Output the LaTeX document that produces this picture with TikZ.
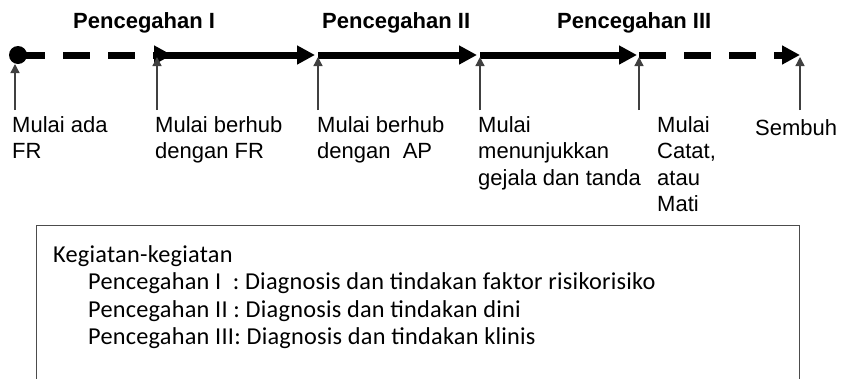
\documentclass[tikz,border=0pt]{standalone}
\usepackage{fontspec}
\setmainfont{Liberation Sans}
\newfontfamily\boxfont[LetterSpace=1]{Carlito}
\usetikzlibrary{arrows.meta}

\begin{document}
\begin{tikzpicture}[x=1pt, y=-1pt, >=Latex, line join=miter,
	tl/.style={line width=7pt, -{Triangle[length=18pt,width=18pt]}},
	tldash/.style={tl, dash pattern=on 27pt off 18pt},
	uparrow/.style={line width=1.3pt, black!75, -{Triangle[length=9pt,width=9pt]}, shorten >=2pt},
	lbl/.style={anchor=north west, inner sep=0pt, align=left, font=\fontsize{22}{26.5}\selectfont},
	ttl/.style={anchor=base west, inner sep=0pt, font=\fontsize{22}{26}\selectfont\bfseries},
	dot/.style={circle, fill, inner sep=0pt, minimum size=18pt}]

\useasboundingbox (0,0) rectangle (843,378);
\clip (0,0) rectangle (843,378);

%========================
% Titles
%========================
\node[ttl] (ttlI)   at (73,28)  {Pencegahan I};
\node[ttl] (ttlII)  at (322,28) {Pencegahan II};
\node[ttl] (ttlIII) at (557,28) {Pencegahan III};

%========================
% Timeline
%========================
\coordinate (m0) at (15,55);
\coordinate (m1) at (157,55);
\coordinate (m2) at (318,55);
\coordinate (m3) at (480,55);
\coordinate (m4) at (639,55);
\coordinate (m5) at (800,55);
\coordinate (e1) at (172,55);
\coordinate (e2) at (315,55);
\coordinate (e3) at (477,55);
\coordinate (e4) at (637,55);

% first up arrow runs under the dot
\draw[uparrow, shorten >=9pt] (m0) ++(0,55) -- (m0);

\node[dot] (start) at (18,55) {};
\draw[tldash] (start.center) -- (e1);
\draw[tl] (m1) -- (e2);
\draw[tl] (m2) -- (e3);
\draw[tl] (m3) -- (e4);
\draw[tldash] (m4) -- (m5);

% up arrows
\foreach \i in {1,...,5}
	\draw[uparrow] (m\i) ++(0,55) -- (m\i);

%========================
% Labels
%========================
\node[lbl] (l0) at (12,116)  {Mulai ada\\FR};
\node[lbl] (l1) at (155,116) {Mulai berhub\\dengan FR};
\node[lbl] (l2) at (317,116) {Mulai berhub\\dengan\ \ AP};
\node[lbl] (l3) at (478,116) {Mulai\\menunjukkan\\gejala dan tanda};
\node[lbl] (l4) at (657,116) {Mulai\\Catat,\\atau\\Mati};
\node[lbl] (l5) at (755,119) {Sembuh};

%========================
% Box of activities
%========================
\node[draw=black!70, line width=1.3pt, anchor=north west, inner sep=0pt,
	minimum width=763pt, minimum height=200pt] (frame) at (36,225) {};
\node[anchor=north west, inner sep=0pt, align=left,
	font=\boxfont\fontsize{24.3}{27.5}\selectfont] (isi) at (53,245)
	{Kegiatan-kegiatan\\
	\hspace*{35pt}Pencegahan I\ \ : Diagnosis dan tindakan faktor risikorisiko\\
	\hspace*{35pt}Pencegahan II : Diagnosis dan tindakan dini\\
	\hspace*{35pt}Pencegahan III: Diagnosis dan tindakan klinis};

\end{tikzpicture}
\end{document}
